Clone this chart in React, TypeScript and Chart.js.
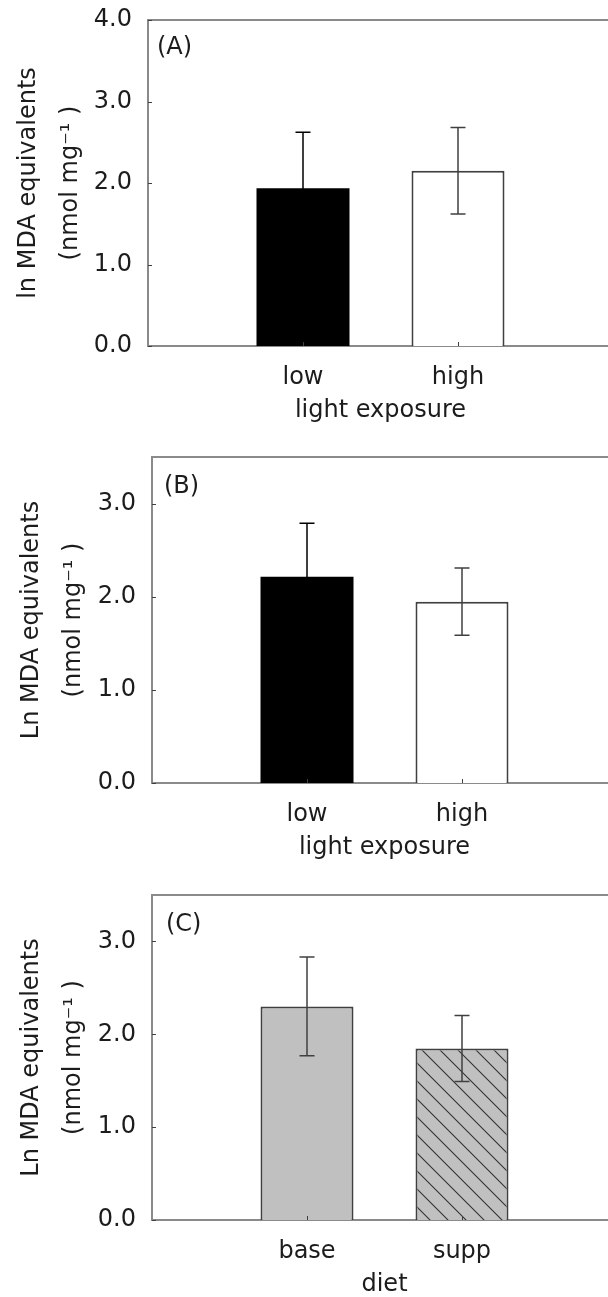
import React, { useEffect, useRef } from 'react';
import { Chart, registerables } from 'chart.js';

Chart.register(...registerables);

// ---------- data ----------
const lightCategories = ['low', 'high'];
const dietCategories = ['base', 'supp'];

const panelAMeans = [1.935, 2.15];
const panelAErrors = [0.687, 0.53];
const panelBMeans = [2.215, 1.947];
const panelBErrors = [0.575, 0.362];
const panelCMeans = [2.3, 1.847];
const panelCErrors = [0.532, 0.355];

const panelAYTicks = [0, 1, 2, 3, 4];
const panelBCYTicks = [0, 1, 2, 3];

const lightTitle = 'light exposure';
const dietTitle = 'diet';
const yTitleA = ['ln MDA equivalents', '(nmol mg\u207B\u00B9 )'];
const yTitleBC = ['Ln MDA equivalents', '(nmol mg\u207B\u00B9 )'];
const panelLetters = ['(A)', '(B)', '(C)'];

// ---------- style ----------
const FONT = '"DejaVu Sans", sans-serif';
const TEXT = '#1c1c1c';
const FRAME = '#8a8a8a';
const INK = '#404040';
const GRAY = '#c0c0c0';
const CANVAS_W = 620;

function makeHatch(): CanvasPattern | string {
  const s = 18;
  const c = document.createElement('canvas');
  c.width = s;
  c.height = s;
  const g = c.getContext('2d');
  if (!g) return GRAY;
  g.fillStyle = GRAY;
  g.fillRect(0, 0, s, s);
  g.strokeStyle = '#333333';
  g.lineWidth = 1.1;
  g.beginPath();
  g.moveTo(-2, -2);
  g.lineTo(s + 2, s + 2);
  g.moveTo(-2, s - 2);
  g.lineTo(2, s + 2);
  g.moveTo(s - 2, -2);
  g.lineTo(s + 2, 2);
  g.stroke();
  return g.createPattern(c, 'repeat') || GRAY;
}

const errorBarPlugin = {
  id: 'errorBars',
  afterDatasetsDraw(chart: any, _args: any, opts: any) {
    const errs: (number | null)[] = opts.errors || [];
    const colors: (string | null)[] = opts.colors || [];
    const meta = chart.getDatasetMeta(0);
    const ys = chart.scales.y;
    const ctx = chart.ctx;
    const cap = 7.5;
    ctx.save();
    ctx.lineWidth = 1.5;
    meta.data.forEach((bar: any, i: number) => {
      const v = chart.data.datasets[0].data[i];
      const e = errs[i];
      if (v == null || e == null || !isFinite(bar.x)) return;
      const top = ys.getPixelForValue(v + e);
      const bot = ys.getPixelForValue(v - e);
      const x = bar.x;
      ctx.strokeStyle = colors[i] || INK;
      ctx.beginPath();
      ctx.moveTo(x, top);
      ctx.lineTo(x, bot);
      ctx.moveTo(x - cap, top);
      ctx.lineTo(x + cap, top);
      ctx.moveTo(x - cap, bot);
      ctx.lineTo(x + cap, bot);
      ctx.stroke();
    });
    ctx.restore();
  },
};

const framePlugin = {
  id: 'frame',
  afterDraw(chart: any, _args: any, opts: any) {
    const { ctx, chartArea } = chart;
    const xs = chart.scales.x;
    const ys = chart.scales.y;
    ctx.save();
    ctx.strokeStyle = FRAME;
    ctx.lineWidth = 2;
    ctx.beginPath();
    ctx.moveTo(chartArea.left - 1, chartArea.top);
    ctx.lineTo(chartArea.right, chartArea.top);
    ctx.stroke();
    ctx.strokeStyle = INK;
    ctx.lineWidth = 1;
    ctx.beginPath();
    xs.ticks.forEach((_t: any, i: number) => {
      const lbl = chart.data.labels[i];
      if (!lbl) return;
      const x = Math.round(xs.getPixelForTick(i)) + 0.5;
      ctx.moveTo(x, chartArea.bottom);
      ctx.lineTo(x, chartArea.bottom - 4);
    });
    ys.ticks.forEach((t: any) => {
      const y = Math.round(ys.getPixelForValue(t.value)) + 0.5;
      ctx.moveTo(chartArea.left, y);
      ctx.lineTo(chartArea.left + 4, y);
    });
    ctx.stroke();
    ctx.fillStyle = TEXT;
    ctx.font = `24px ${FONT}`;
    ctx.textAlign = 'left';
    ctx.textBaseline = 'middle';
    ctx.fillText(opts.text, chartArea.left + opts.dx, chartArea.top + opts.dy);
    ctx.restore();
  },
};

interface PanelCfg {
  top: number;
  height: number;
  padTop: number;
  axisWidth: number;
  padRight: number;
  yMax: number;
  yTicks: number[];
  categories: string[];
  means: number[];
  errors: number[];
  fills: 'light' | 'diet';
  xTitle: string;
  yTitle: string[];
  yTitlePad: number;
  letter: string;
  letterDx: number;
  letterDy: number;
}

const panels: PanelCfg[] = [
  {
    top: 0, height: 426, padTop: 20, axisWidth: 148, padRight: 7, yMax: 4, yTicks: panelAYTicks,
    categories: lightCategories, means: panelAMeans, errors: panelAErrors, fills: 'light',
    xTitle: lightTitle, yTitle: yTitleA, yTitlePad: 8, letter: panelLetters[0], letterDx: 9, letterDy: 28,
  },
  {
    top: 440, height: 423, padTop: 17, axisWidth: 152, padRight: 3, yMax: 3.5, yTicks: panelBCYTicks,
    categories: lightCategories, means: panelBMeans, errors: panelBErrors, fills: 'light',
    xTitle: lightTitle, yTitle: yTitleBC, yTitlePad: 11, letter: panelLetters[1], letterDx: 12, letterDy: 30,
  },
  {
    top: 880, height: 420, padTop: 15, axisWidth: 152, padRight: 3, yMax: 3.5, yTicks: panelBCYTicks,
    categories: dietCategories, means: panelCMeans, errors: panelCErrors, fills: 'diet',
    xTitle: dietTitle, yTitle: yTitleBC, yTitlePad: 11, letter: panelLetters[2], letterDx: 14, letterDy: 30,
  },
];

function Panel({ cfg }: { cfg: PanelCfg }) {
  const ref = useRef<HTMLCanvasElement>(null);
  useEffect(() => {
    if (!ref.current) return;
    const labels = ['', ...cfg.categories, ''];
    const data = [null, ...cfg.means, null];
    const errs = [null, ...cfg.errors, null];
    const light = cfg.fills === 'light';
    const bg = light ? [null, '#000000', '#ffffff', null] : [null, GRAY, makeHatch(), null];
    const bc = light ? [null, '#000000', INK, null] : [null, INK, INK, null];
    const bw = light ? [0, 0, 2, 0] : [0, 2, 2, 0];
    const chart = new Chart(ref.current, {
      type: 'bar',
      data: {
        labels,
        datasets: [
          {
            data: data as any,
            backgroundColor: bg as any,
            borderColor: bc as any,
            borderWidth: bw as any,
            barPercentage: 0.6,
            categoryPercentage: 1,
          },
        ],
      },
      plugins: [errorBarPlugin, framePlugin],
      options: {
        responsive: false,
        animation: false,
        devicePixelRatio: 1,
        events: [],
        layout: { padding: { top: cfg.padTop, right: cfg.padRight, left: 0, bottom: 0 } },
        plugins: {
          legend: { display: false },
          tooltip: { enabled: false },
          errorBars: { errors: errs, colors: bc },
          frame: { text: cfg.letter, dx: cfg.letterDx, dy: cfg.letterDy },
        } as any,
        scales: {
          x: {
            type: 'category',
            offset: false,
            grid: { display: false, drawTicks: false },
            border: { display: true, color: FRAME, width: 2 },
            ticks: {
              autoSkip: false,
              maxRotation: 0,
              padding: 17,
              color: TEXT,
              font: { family: FONT, size: 24 },
            },
            title: {
              display: true,
              text: cfg.xTitle,
              color: TEXT,
              font: { family: FONT, size: 24 },
              padding: { top: 0, bottom: 1 },
            },
            afterFit: (s: any) => {
              s.height = 80;
              s.paddingLeft = 0;
              s.paddingRight = 0;
            },
          },
          y: {
            type: 'linear',
            min: 0,
            max: cfg.yMax,
            grid: { display: false, drawTicks: false },
            border: { display: true, color: FRAME, width: 2 },
            afterBuildTicks: (s: any) => {
              s.ticks = cfg.yTicks.map((v) => ({ value: v }));
            },
            ticks: {
              padding: 16,
              color: TEXT,
              font: { family: FONT, size: 24 },
              callback: (v: any) => Number(v).toFixed(1),
            },
            title: {
              display: true,
              text: cfg.yTitle,
              color: TEXT,
              font: { family: FONT, size: 24, lineHeight: 1.75 },
              padding: { top: cfg.yTitlePad, bottom: 0 },
            },
            afterFit: (s: any) => {
              s.width = cfg.axisWidth;
              s.paddingTop = 0;
              s.paddingBottom = 0;
            },
          },
        },
      } as any,
    });
    return () => chart.destroy();
  }, []);
  return (
    <canvas
      ref={ref}
      width={CANVAS_W}
      height={cfg.height}
      style={{ position: 'absolute', left: 0, top: cfg.top, width: CANVAS_W, height: cfg.height }}
    />
  );
}

export default function App() {
  return (
    <div
      style={{
        position: 'absolute',
        left: 0,
        top: 0,
        width: 608,
        height: 1297,
        overflow: 'hidden',
        background: '#ffffff',
      }}
    >
      {panels.map((p, i) => (
        <Panel key={i} cfg={p} />
      ))}
    </div>
  );
}
